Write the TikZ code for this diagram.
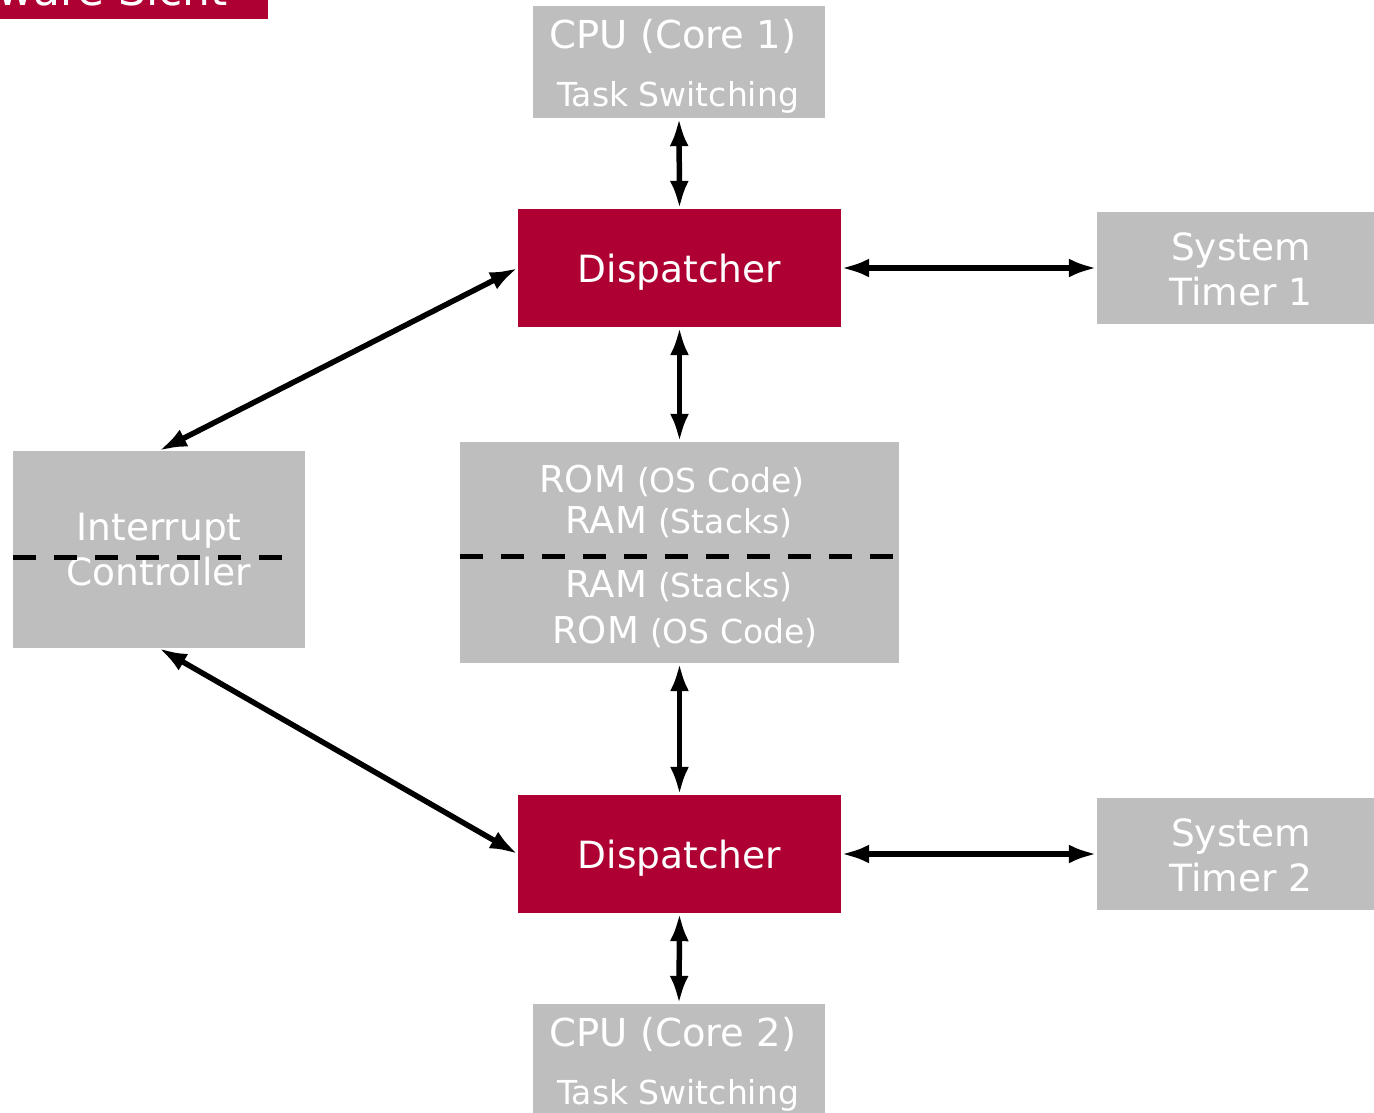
\documentclass[tikz,border=0pt]{standalone}
\usepackage{fontspec}
\setmainfont{DejaVu Sans}
\usetikzlibrary{arrows.meta}
\definecolor{boxgray}{HTML}{BEBEBE}
\definecolor{brandred}{HTML}{AE0032}
\tikzset{
  graybox/.style={fill=boxgray, draw=none, inner sep=0pt},
  redbox/.style={fill=brandred, draw=none, inner sep=0pt},
  txt/.style={text=white, inner sep=0pt, anchor=base},
  big/.style={font=\fontsize{37.5}{42}\selectfont},
  mid/.style={font=\fontsize{33}{37}\selectfont},
  link/.style={line width=5.5pt, {Latex[length=28pt,width=19pt]}-{Latex[length=28pt,width=19pt]}},
  divider/.style={line width=5pt, dash pattern=on 23pt off 18pt}
}
\newcommand\memline[2]{\fontsize{37}{42}\selectfont #1\hspace{0.3em}\fontsize{33}{37}\selectfont(#2)}
\begin{document}
\begin{tikzpicture}[x=1pt, y=-1pt]
\useasboundingbox (0,0) rectangle (1374,1112);
\clip (0,0) rectangle (1374,1112);

% title tab, mostly above the page edge
\fill[brandred] (0,0) rectangle (268,19);
\node[txt, anchor=base east, font=\fontsize{44}{48}\selectfont] (title) at (228,5) {Hardware Sicht};

% boxes
\node[graybox, minimum width=292pt, minimum height=112pt] (cpuA) at (679,62) {};
\node[redbox, minimum width=323pt, minimum height=118pt] (dispA) at (679.5,268) {};
\node[graybox, minimum width=277pt, minimum height=112pt] (timA) at (1235.5,268) {};
\node[graybox, minimum width=292pt, minimum height=197pt] (intc) at (159,549.5) {};
\node[graybox, minimum width=439pt, minimum height=221pt] (mem) at (679.5,552.5) {};
\node[redbox, minimum width=323pt, minimum height=118pt] (dispB) at (679.5,854) {};
\node[graybox, minimum width=277pt, minimum height=112pt] (timB) at (1235.5,854) {};
\node[graybox, minimum width=292pt, minimum height=112pt] (cpuB) at (679,1060) {};

% labels
\node[txt, font=\fontsize{38.5}{42}\selectfont] (cpuAt) at (673,48) {CPU (Core 1)};
\node[txt, mid] (cpuAs) at (678,106) {Task Switching};
\node[txt, big] (dispAt) at (679.5,282) {Dispatcher};
\node[txt, big] (timAt) at (1241,260) {System};
\node[txt, big] (timAs) at (1241,305) {Timer 1};
\node[txt, big] (intct) at (159,540) {Interrupt};
\node[txt, big] (intcs) at (159,585) {Controller};
\node[txt] (memA) at (672,492) {\memline{ROM}{OS Code}};
\node[txt] (memB) at (679,533) {\memline{RAM}{Stacks}};
\node[txt] (memC) at (679,597) {\memline{RAM}{Stacks}};
\node[txt] (memD) at (685,643) {\memline{ROM}{OS Code}};
\node[txt, big] (dispBt) at (679.5,868) {Dispatcher};
\node[txt, big] (timBt) at (1241,846) {System};
\node[txt, big] (timBs) at (1241,891) {Timer 2};
\node[txt, font=\fontsize{38.5}{42}\selectfont] (cpuBt) at (673,1046) {CPU (Core 2)};
\node[txt, mid] (cpuBs) at (678,1104) {Task Switching};

% dividers
\coordinate (memL) at (mem.west |- 0,556);
\coordinate (memR) at (mem.east |- 0,556);
\draw[divider] (memL) -- (memR);
\coordinate (intL) at (intc.west |- 0,557);
\coordinate (intR) at (290,557);
\draw[divider] (intL) -- (intR);

% connectors
\draw[link] (cpuA.south) -- (dispA.north);
\draw[link] (dispA.east) -- (timA.west);
\draw[link] (dispA.south) -- (mem.north);
\draw[link] (dispA.west) -- (intc.north);
\draw[link] (intc.south) -- (dispB.west);
\draw[link] (mem.south) -- (dispB.north);
\draw[link] (dispB.east) -- (timB.west);
\draw[link] (dispB.south) -- (cpuB.north);
\end{tikzpicture}
\end{document}
